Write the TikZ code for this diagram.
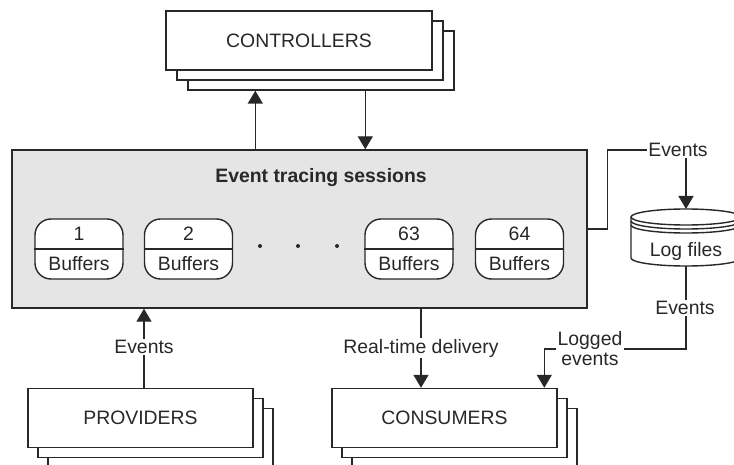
\documentclass[tikz,border=0pt]{standalone}
\usepackage{fontspec}
\setmainfont{Liberation Sans}
\usetikzlibrary{arrows.meta,calc}
\definecolor{lc}{RGB}{40,40,40}
\definecolor{tc}{RGB}{40,40,40}
\definecolor{sessfill}{RGB}{229,229,229}
\tikzset{
  ln/.style={draw=lc, line width=1.4pt},
  arr/.style={ln, -{Triangle[length=13pt,width=15pt]}},
  stackbox/.style={draw=lc, line width=1.4pt, fill=white, minimum height=59pt, inner sep=0pt, text=tc},
  bufbox/.style={draw=lc, line width=1.4pt, fill=white, rounded corners=16pt, minimum width=88pt, minimum height=60pt, inner sep=0pt},
  lbl/.style={inner sep=1pt, text=tc},
  dotmark/.style={circle, fill=lc, inner sep=0pt, minimum size=4pt},
}
\begin{document}
\begin{tikzpicture}[x=1pt,y=-1pt,font=\fontsize{19.4}{20}\selectfont]
\useasboundingbox (0,0) rectangle (734,465);
\clip (0,0) rectangle (734,465);
\fill[white] (0,0) rectangle (734,465);

% CONTROLLERS stack
\node[stackbox, minimum width=266pt] (ctrl3) at (321,60.5) {};
\node[stackbox, minimum width=266pt] (ctrl2) at (310,50.5) {};
\node[stackbox, minimum width=266pt] (ctrl) at (299,40.5) {CONTROLLERS};

% PROVIDERS stack
\node[stackbox, minimum width=225pt] (prov3) at (160.5,438) {};
\node[stackbox, minimum width=225pt] (prov2) at (150.5,428) {};
\node[stackbox, minimum width=225pt] (prov) at (140.5,418) {PROVIDERS};

% CONSUMERS stack
\node[stackbox, minimum width=225pt] (cons3) at (464.5,438) {};
\node[stackbox, minimum width=225pt] (cons2) at (454.5,428) {};
\node[stackbox, minimum width=225pt] (cons) at (444.5,418) {CONSUMERS};

% Sessions box
\node[draw=lc, line width=1.4pt, fill=sessfill, minimum width=575pt, minimum height=158pt, inner sep=0pt] (main) at (299.5,229) {};
\node[lbl, font=\fontsize{19.4}{20}\selectfont\bfseries] (title) at (321,178) {Event tracing sessions};

% Buffers
\foreach \nm/\cx/\num in {b1/79/1, b2/188.5/2, b63/409/63, b64/519.5/64}{
  \node[bufbox] (\nm) at (\cx,249) {};
  \draw[ln] (\nm.west) -- (\nm.east);
  \node[lbl] (\nm num) at ($(\nm.center)+(0,-15)$) {\num};
  \node[lbl] (\nm txt) at ($(\nm.center)+(0,15)$) {Buffers};
}
\node[dotmark] (dot1) at (260,246) {};
\node[dotmark] (dot2) at (298,246) {};
\node[dotmark] (dot3) at (337,246) {};

% Controllers arrows
\coordinate (up) at ([xshift=244pt]main.north west);
\coordinate (dn) at ([xshift=354pt]main.north west);
\draw[arr] (up) -- (up |- ctrl3.south);
\draw[arr] (dn |- ctrl3.south) -- (dn);

% Log files cylinder
\coordinate (logtop) at (686,209);
\coordinate (logbot) at (686,266);
\draw[ln, fill=white] (631,217) -- (631,258) arc[start angle=180, end angle=360, x radius=55pt, y radius=8pt] -- (741,217);
\draw[ln, fill=white] (686,217) ellipse [x radius=55pt, y radius=8pt];
\draw[ln] (631,221) arc[start angle=180, end angle=360, x radius=55pt, y radius=8pt];
\draw[ln] (631,225) arc[start angle=180, end angle=360, x radius=55pt, y radius=8pt];
\node[lbl] (logf) at (686,251) {Log files};

% Events to log
\node[lbl] (ev1) at (678,150) {Events};
\draw[ln] (main.east) -- ++(20,0) |- (ev1.west);
\draw[arr] (ev1.south -| logtop) -- (logtop);

% Log to consumers
\node[lbl] (ev2) at (685,308) {Events};
\node[lbl, align=center] (logged) at (590,349) {Logged\\events};
\draw[ln] (logbot) -- (logbot |- ev2.north);
\draw[ln] (ev2.south -| logbot) |- (logged.east);
\coordinate (lgin) at ([xshift=213pt]cons.north west);
\draw[arr] (logged.west) -| (lgin);

% Real-time delivery
\node[lbl] (rt) at (421,348) {Real-time delivery};
\draw[ln] (main.south -| rt) -- (rt.north);
\draw[arr] (rt.south) -- (rt.south |- cons.north);

% Providers events
\node[lbl] (ev3) at (144,347) {Events};
\draw[ln] (prov.north -| ev3) -- (ev3.south);
\draw[arr] (ev3.north) -- (ev3.north |- main.south);
\end{tikzpicture}
\end{document}
